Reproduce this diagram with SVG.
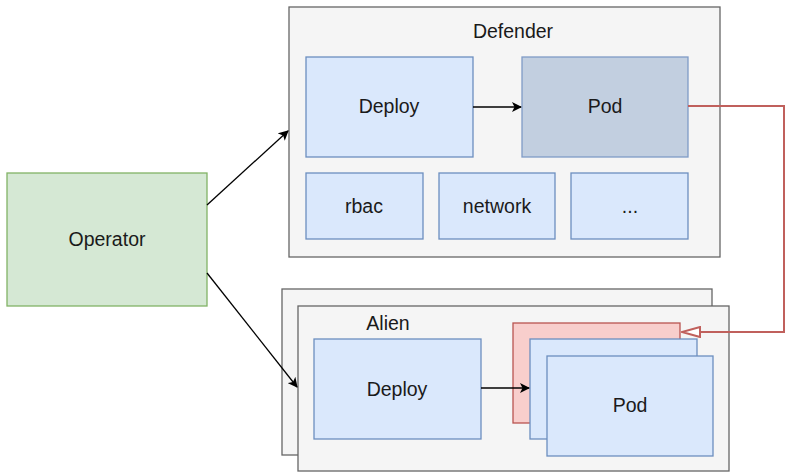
<svg xmlns="http://www.w3.org/2000/svg" width="785" height="472" viewBox="0 0 785 472">
  <style>
    .box { fill: #dae8fc; stroke: #6c8ebf; stroke-width: 1.3; }
    .cont { fill: #f5f5f5; stroke: #666666; stroke-width: 1.3; }
    .lbl { font-family: "Liberation Sans", Arial, sans-serif; font-size: 19.5px; fill: #1a1a1a; text-anchor: middle; dominant-baseline: central; }
    .edge { fill: none; stroke: #000000; stroke-width: 1.3; }
    .red { fill: none; stroke: #c0605c; stroke-width: 2; }
  </style>
  <defs>
    <marker id="arr" viewBox="0 0 10 10" refX="9" refY="5" markerWidth="10" markerHeight="10" markerUnits="userSpaceOnUse" orient="auto">
      <path d="M0,0 L10,5 L0,10 L2.5,5 Z" fill="#000000"/>
    </marker>
    <marker id="open" viewBox="0 0 20 12" refX="19" refY="6" markerWidth="20" markerHeight="12" markerUnits="userSpaceOnUse" orient="auto">
      <path d="M1,1 L19,6 L1,11 Z" fill="#ffffff" stroke="#c0605c" stroke-width="2"/>
    </marker>
  </defs>

  <!-- Operator -->
  <g id="operator">
    <rect x="7" y="173" width="200" height="133" fill="#d5e8d4" stroke="#82b366" stroke-width="1.3"/>
    <text class="lbl" x="107" y="239">Operator</text>
  </g>

  <!-- Defender namespace -->
  <g id="defender">
    <rect class="cont" x="289" y="7" width="431" height="250"/>
    <text class="lbl" x="513" y="31">Defender</text>
  </g>
  <g id="defender-deploy">
    <rect class="box" x="306" y="57" width="167" height="100"/>
    <text class="lbl" x="389" y="106">Deploy</text>
  </g>
  <g id="defender-pod">
    <rect x="522" y="57" width="166" height="100" fill="#c2cfe0" stroke="#7f9bc6" stroke-width="1.3"/>
    <text class="lbl" x="605" y="106">Pod</text>
  </g>
  <g id="rbac">
    <rect class="box" x="306" y="173" width="117" height="66"/>
    <text class="lbl" x="364" y="206">rbac</text>
  </g>
  <g id="network">
    <rect class="box" x="439" y="173" width="116" height="66"/>
    <text class="lbl" x="497" y="206">network</text>
  </g>
  <g id="more">
    <rect class="box" x="571" y="173" width="117" height="66"/>
    <text class="lbl" x="630" y="206">...</text>
  </g>

  <!-- Alien namespaces (stacked) -->
  <g id="alien">
    <rect class="cont" x="282" y="289" width="430" height="166"/>
    <rect class="cont" x="298" y="306" width="431" height="165"/>
    <text class="lbl" x="388" y="323">Alien</text>
  </g>
  <g id="alien-deploy">
    <rect class="box" x="314" y="339" width="167" height="100"/>
    <text class="lbl" x="397" y="389">Deploy</text>
  </g>
  <g id="alien-pods">
    <rect x="513" y="323" width="167" height="100" fill="#f8cecc" stroke="#b85450" stroke-width="1.3"/>
    <rect class="box" x="530" y="339" width="167" height="100"/>
    <rect class="box" x="547" y="356" width="166" height="100"/>
    <text class="lbl" x="630" y="405">Pod</text>
  </g>

  <!-- Connectors -->
  <g id="connectors">
    <line class="edge" x1="207" y1="205" x2="288" y2="131" marker-end="url(#arr)"/>
    <line class="edge" x1="207" y1="273" x2="297" y2="387" marker-end="url(#arr)"/>
    <line class="edge" x1="473" y1="107" x2="521" y2="107" marker-end="url(#arr)"/>
    <line class="edge" x1="481" y1="388" x2="529" y2="388" marker-end="url(#arr)"/>
    <polyline class="red" points="688,106 784,106 784,332 682,332" marker-end="url(#open)"/>
  </g>
</svg>
